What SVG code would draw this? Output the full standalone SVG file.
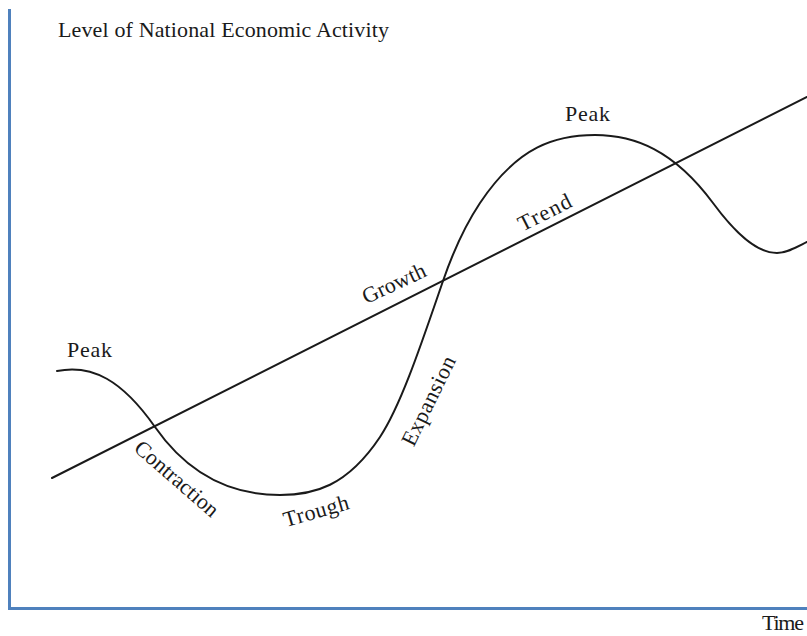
<svg xmlns="http://www.w3.org/2000/svg" width="807" height="636" viewBox="0 0 807 636">
<style>
.lbl{font-family:"Liberation Serif","Times New Roman",serif;font-size:22px;fill:#1a1a1a}
.axis{stroke:#4f81bd;stroke-width:3;fill:none}
.ln{stroke:#1a1a1a;stroke-width:2;fill:none;stroke-linecap:round}
</style>
<rect width="807" height="636" fill="#ffffff"/>
<g id="axes">
<line class="axis" x1="9.5" y1="9" x2="9.5" y2="609"/>
<line class="axis" x1="8" y1="608.5" x2="807" y2="608.5"/>
</g>
<g id="connectors">
<line id="trend" class="ln" x1="52" y1="478" x2="807" y2="97"/>
<path id="cycle" class="ln" d="M57 371 C92 364 122 380 155 427 C192 480 238.3 495 280 495 C313.3 495 346.7 487 380 437 C401 405.5 422 342 443 281 C455.3 245.2 467.7 221.5 480 203 C518.3 145.5 556.7 135 595 135 C634.3 135 673.7 150 713 203 C734.3 231.8 755.7 253 777 253 C787 253 797 247 807 242"/>
</g>
<g id="labels">
<text id="title" class="lbl" x="58" y="37" textLength="331" lengthAdjust="spacing">Level of National Economic Activity</text>
<text id="peak1" class="lbl" x="67" y="357" textLength="45" lengthAdjust="spacing">Peak</text>
<text id="peak2" class="lbl" x="565" y="121" textLength="45" lengthAdjust="spacing">Peak</text>
<text id="trendlbl" class="lbl" text-anchor="middle" transform="translate(548,219) rotate(-26.8)" textLength="57" lengthAdjust="spacing" x="0" y="0">Trend</text>
<text id="growth" class="lbl" text-anchor="middle" transform="translate(397,290) rotate(-25)" textLength="68" lengthAdjust="spacing" x="0" y="0">Growth</text>
<text id="contraction" class="lbl" text-anchor="middle" transform="translate(172,484) rotate(41)" textLength="104" lengthAdjust="spacing" x="0" y="0">Contraction</text>
<text id="trough" class="lbl" text-anchor="middle" transform="translate(318,518) rotate(-16)" textLength="67" lengthAdjust="spacing" x="0" y="0">Trough</text>
<text id="expansion" class="lbl" text-anchor="middle" transform="translate(435,404) rotate(-64)" textLength="97" lengthAdjust="spacing" x="0" y="0">Expansion</text>
<text id="time" class="lbl" x="762" y="630" textLength="42" lengthAdjust="spacing">Time</text>
</g>
</svg>
